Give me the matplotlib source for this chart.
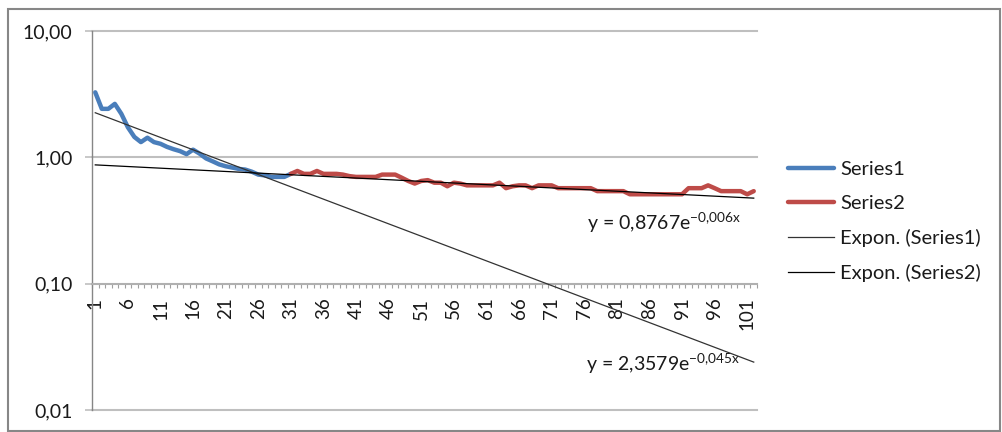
import numpy as np
import matplotlib
matplotlib.use("Agg")
import matplotlib.pyplot as plt
from matplotlib.ticker import FixedLocator, FuncFormatter, NullLocator
from matplotlib.patches import Rectangle

plt.rcParams['font.family'] = ['Lato', 'DejaVu Sans']
plt.rcParams['mathtext.fontset'] = 'custom'
plt.rcParams['mathtext.rm'] = 'Lato'
plt.rcParams['mathtext.it'] = 'Lato:italic'

# data (category index 1..102)
series1_x = list(range(1, 32))
series1 = [3.27, 2.42, 2.42, 2.65, 2.21, 1.73, 1.45, 1.32, 1.43, 1.32,
           1.28, 1.21, 1.16, 1.12, 1.06, 1.15, 1.07, 0.98, 0.93, 0.88,
           0.85, 0.83, 0.81, 0.80, 0.77, 0.73, 0.72, 0.70, 0.70, 0.70,
           0.74]
series2_x = list(range(31, 103))
series2 = [0.74, 0.78, 0.74, 0.74, 0.78, 0.74, 0.74, 0.74, 0.73, 0.71,
           0.70, 0.70, 0.70, 0.70, 0.73, 0.73, 0.73, 0.69, 0.65, 0.62,
           0.65, 0.66, 0.63, 0.63, 0.59, 0.63, 0.62, 0.60, 0.60, 0.60,
           0.60, 0.60, 0.63, 0.57, 0.59, 0.60, 0.60, 0.57, 0.60, 0.60,
           0.60, 0.57, 0.57, 0.57, 0.57, 0.57, 0.57, 0.54, 0.54, 0.54,
           0.54, 0.54, 0.51, 0.51, 0.51, 0.51, 0.51, 0.51, 0.51, 0.51,
           0.51, 0.57, 0.57, 0.57, 0.60, 0.57, 0.54, 0.54, 0.54, 0.54,
           0.51, 0.54]
n_categories = 102

# exponential trendlines as shown in the chart labels
trend1_a, trend1_b = 2.3579, -0.045
trend2_a, trend2_b = 0.8767, -0.006
trend1_label = r'y = 2,3579e$^{\mathrm{-0{,}045x}}$'
trend2_label = r'y = 0,8767e$^{\mathrm{-0{,}006x}}$'

y_ticks = [0.01, 0.1, 1, 10]
x_tick_labels = list(range(1, 102, 5))

W, H = 1002, 432
fig = plt.figure(figsize=(W / 100, H / 100), dpi=100)
ax = fig.add_axes([92 / W, 1 - 410 / H, (757 - 92) / W, (410 - 31) / H])

blue = '#4A7EBB'
red = '#BE4B48'
txt = '#1A1A1A'
ax.plot(series1_x, series1, color=blue, lw=3.2, solid_capstyle='round',
        solid_joinstyle='round', label='Series1', zorder=3)
ax.plot(series2_x, series2, color=red, lw=3.2, solid_capstyle='round',
        solid_joinstyle='round', label='Series2', zorder=3)

xt = np.arange(1, n_categories + 1)
ax.plot(xt, trend1_a * np.exp(trend1_b * xt), color='#333333', lw=0.9,
        label='Expon. (Series1)', zorder=4)
ax.plot(xt, trend2_a * np.exp(trend2_b * xt), color='black', lw=0.9,
        label='Expon. (Series2)', zorder=4)

ax.set_yscale('log')
ax.set_ylim(0.01, 10)
ax.set_xlim(0.5, n_categories + 0.5)

# gridlines (0.1 is the category axis itself)
for v in [0.01, 1, 10]:
    ax.axhline(v, color='#BFBFBF', lw=1.5, clip_on=False, zorder=1)

ax.yaxis.set_major_locator(FixedLocator(y_ticks))
ax.yaxis.set_minor_locator(NullLocator())
ax.yaxis.set_major_formatter(FuncFormatter(lambda v, p: f'{v:.2f}'.replace('.', ',')))
ax.tick_params(axis='y', which='major', length=5, width=1.2, color='#BFBFBF',
               pad=9, labelsize=14, labelcolor=txt)

ax.spines['bottom'].set_position(('data', 0.1))
ax.spines['bottom'].set_color('#B0B0B0')
ax.spines['bottom'].set_linewidth(1.5)
ax.spines['left'].set_color('#868686')
ax.spines['left'].set_linewidth(1.0)
ax.spines['top'].set_visible(False)
ax.spines['right'].set_visible(False)

ax.xaxis.set_major_locator(FixedLocator(x_tick_labels))
ax.set_xticklabels([str(v) for v in x_tick_labels], rotation=90)
ax.xaxis.set_minor_locator(FixedLocator(np.arange(0.5, n_categories + 1, 1)))
ax.tick_params(axis='x', which='major', length=0, pad=10, labelsize=13.5,
               labelcolor=txt)
ax.tick_params(axis='x', which='minor', length=3, width=0.8, color='#A0A0A0',
               direction='out')

ax.text(76.5, 0.30, trend2_label, fontsize=14, color=txt, va='center')
ax.text(76.2, 0.0232, trend1_label, fontsize=14, color=txt, va='center')

fig.legend(loc='upper left', bbox_to_anchor=(788 / W, 1 - 161 / H), frameon=False,
           fontsize=14.5, handlelength=2.3, handletextpad=0.3, labelspacing=0.84,
           borderpad=0, borderaxespad=0, labelcolor=txt)

fig.patches.append(Rectangle((8 / W, 1 - 431 / H), (1000 - 8) / W, (431 - 9) / H,
                             transform=fig.transFigure, fill=False,
                             edgecolor='#878787', lw=1.5))

fig.savefig('out.png', dpi=100)
